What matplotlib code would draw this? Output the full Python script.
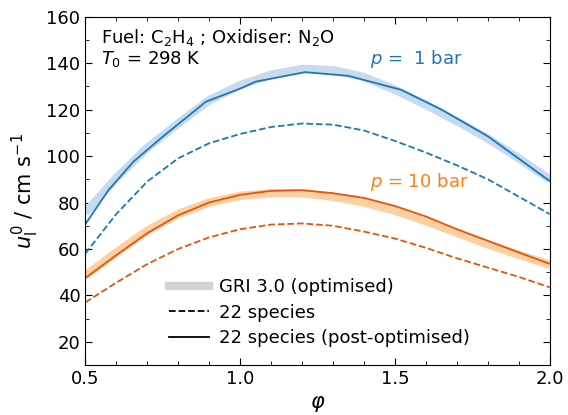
import numpy as np
import matplotlib
matplotlib.use('Agg')
import matplotlib.pyplot as plt
from matplotlib.lines import Line2D
from matplotlib.ticker import MultipleLocator

plt.rcParams['font.size'] = 13
plt.rcParams['mathtext.fontset'] = 'dejavusans'

# equivalence ratio grid (GRI and 22-species runs)
phi = [0.5, 0.6, 0.7, 0.8, 0.9, 1.0, 1.1, 1.2, 1.3, 1.4, 1.5, 1.6, 1.7, 1.8, 1.9, 2.0]

# p = 1 bar
gri_1bar = [75.5, 90.5, 103.5, 114.0, 124.0, 130.5, 135.0, 137.5, 137.0, 134.0, 128.5, 122.0, 115.0, 107.5, 99.0, 90.0]
red_1bar = [58.0, 75.0, 89.0, 99.0, 105.5, 109.5, 112.5, 114.0, 113.5, 111.0, 106.5, 101.5, 96.0, 90.0, 82.5, 75.0]
phi_post = [0.5, 0.575, 0.655, 0.75, 0.89, 1.0, 1.05, 1.21, 1.35, 1.52, 1.65, 1.8, 2.0]
post_1bar = [70.6, 85.3, 97.5, 108.3, 123.4, 129.0, 132.0, 136.1, 134.5, 128.5, 120.0, 108.5, 89.2]

# p = 10 bar
gri_10bar = [48.5, 58.5, 67.8, 75.0, 80.0, 82.8, 84.0, 84.0, 82.5, 80.0, 76.5, 72.0, 67.0, 62.0, 57.5, 53.2]
red_10bar = [37.0, 45.5, 53.5, 60.0, 65.0, 68.5, 70.5, 71.0, 70.0, 67.5, 64.5, 60.5, 56.0, 52.0, 48.0, 43.5]
post_10bar = [47.5, 57.3, 66.8, 74.5, 80.0, 83.3, 85.0, 85.3, 84.0, 82.0, 78.5, 74.0, 68.5, 63.5, 58.5, 53.6]

fig, ax = plt.subplots(figsize=(5.68, 4.15), dpi=100)
fig.subplots_adjust(left=0.15, right=0.968, top=0.96, bottom=0.12)

ax.plot(phi, gri_1bar, color='#c6dbef', lw=6, solid_capstyle='butt')
ax.plot(phi, red_1bar, color='#1f77b4', lw=1.3, ls='--')
ax.plot(phi_post, post_1bar, color='#1f77b4', lw=1.3)

ax.plot(phi, gri_10bar, color='#fdd0a2', lw=6, solid_capstyle='butt')
ax.plot(phi, red_10bar, color='#e6550d', lw=1.3, ls='--')
ax.plot(phi, post_10bar, color='#e6550d', lw=1.3)

ax.set_xlim(0.5, 2.0)
ax.set_ylim(10, 160)
ax.xaxis.set_major_locator(MultipleLocator(0.5))
ax.xaxis.set_minor_locator(MultipleLocator(0.1))
ax.yaxis.set_major_locator(MultipleLocator(20))
ax.yaxis.set_minor_locator(MultipleLocator(10))
ax.tick_params(which='both', direction='in', top=True, right=True)
ax.tick_params(which='major', length=5)
ax.tick_params(which='minor', length=3)

ax.set_xlabel(r'$\varphi$', fontsize=15)
ax.set_ylabel(r'$u_\mathrm{l}^0$ / cm s$^{-1}$', fontsize=15)

ax.text(0.035, 0.97, 'Fuel: C$_2$H$_4$ ; Oxidiser: N$_2$O\n$T_0$ = 298 K',
        transform=ax.transAxes, va='top', ha='left', linespacing=1.05)
ax.text(1.42, 139.5, r'$p$ =  1 bar', color='#1f77b4')
ax.text(1.42, 86.5, r'$p$ = 10 bar', color='#ff7f0e')

handles = [Line2D([], [], color='lightgray', lw=6),
           Line2D([], [], color='black', lw=1.3, ls='--'),
           Line2D([], [], color='black', lw=1.3)]
labels = ['GRI 3.0 (optimised)', '22 species', '22 species (post-optimised)']
ax.legend(handles, labels, loc='lower left', bbox_to_anchor=(0.145, 0.005),
          frameon=False, handlelength=2.2, handletextpad=0.6, labelspacing=0.42)

plt.savefig('out.png')
